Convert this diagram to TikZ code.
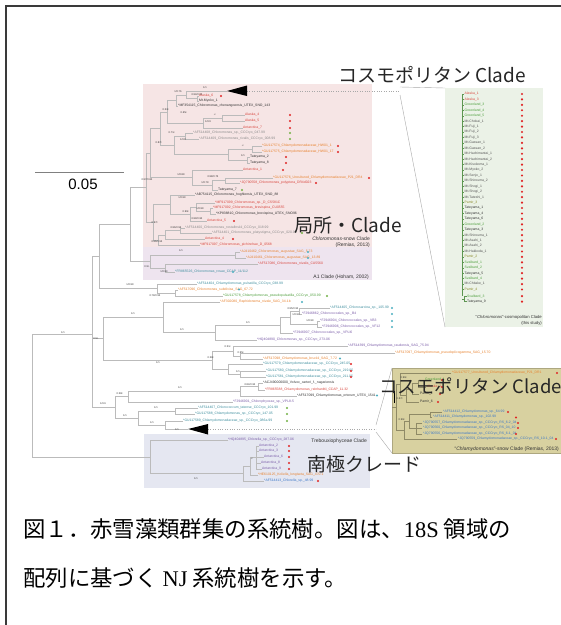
\documentclass[tikz,border=0pt]{standalone}
\usepackage{fontspec}
\setmainfont{Liberation Sans}
\newfontfamily\jpf{Noto Sans CJK JP}
\newfontfamily\tmsf{Liberation Serif}
\definecolor{cR}{HTML}{D9473F}
\definecolor{cO}{HTML}{E8822E}
\definecolor{cG}{HTML}{4E9F3D}
\definecolor{cT}{HTML}{3E8E9E}
\definecolor{cP}{HTML}{7A5CA8}
\definecolor{cK}{HTML}{333333}
\definecolor{cM}{HTML}{555555}
\definecolor{cY}{HTML}{8C8C8C}
\definecolor{cB}{HTML}{3C78C8}
\definecolor{cV}{HTML}{8A8A2A}
\definecolor{dR}{HTML}{E02424}
\definecolor{dG}{HTML}{72B043}
\definecolor{dC}{HTML}{4AAFC0}
\definecolor{pinkc}{HTML}{F6E5E5}
\definecolor{lavc}{HTML}{EEE4EF}
\definecolor{mintc}{HTML}{EBF2E7}
\definecolor{khakic}{HTML}{D8D1A0}
\definecolor{bluec}{HTML}{E5E7F1}
\definecolor{brc}{HTML}{BBBBBB}
\definecolor{kbr}{HTML}{8F8A66}
\definecolor{framec}{HTML}{3A3A3A}
\definecolor{callc}{HTML}{A8A8A8}
\tikzset{
  br/.style={draw=brc, line width=0.4pt},
  kbrs/.style={draw=kbr, line width=0.4pt},
  cbr/.style={draw=cG!70!gray, line width=0.4pt},
  lf/.style={font=\fontsize{3.4}{3.8}\selectfont, anchor=west, inner sep=0pt},
  bsl/.style={font=\fontsize{2.6}{3}\selectfont, text=cK, inner sep=0pt},
  dotn/.style={circle, inner sep=0pt, minimum size=2.4pt},
  capt/.style={font=\fontsize{5}{5.5}\selectfont, text=cK, inner sep=0pt},
  big/.style={font=\jpf\fontsize{19}{21}\selectfont, text=black!85, inner sep=0pt, anchor=base west},
  callout/.style={draw=callc, line width=0.4pt},
}
\newcommand\LF[4]{\node[lf,text=#1] (#2) at (#3) {#4};}
\newcommand\DT[3]{\node[dotn,fill=#1] (#2) at (#3) {};}
\newcommand\BS[3]{\node[bsl] (#1) at (#2) {#3};}
\newcommand\CL[5]{\draw[br] (#1,#2) -| (#3,#5) -- (#4,#5);}
\newcommand\KL[5]{\draw[kbrs] (#1,#2) -| (#3,#5) -- (#4,#5);}
\begin{document}
\begin{tikzpicture}[x=1pt,y=-1pt]
\useasboundingbox (0,0) rectangle (561,625);
\fill[white] (0,0) rectangle (561,625);
% frame
\draw[framec, line width=1.6pt] (6,625) -- (6,6) -- (561,6);
% scale bar
\draw[gray, line width=0.8pt] (35,172) -- (124,172);
\node[font=\fontsize{15}{16}\selectfont, inner sep=0pt] (scl) at (83,184) {0.05};
% shaded regions
\fill[pinkc] (143,84) rectangle (372,247);
\fill[lavc] (143,247) rectangle (372,280);
\fill[mintc] (445,88) rectangle (543,327);
\fill[khakic, draw=khakic!80!black, line width=0.3pt] (392,368) rectangle (561,453);
\fill[bluec] (144,434) rectangle (370,488);
% callout lines
\draw[callout, dotted] (247,91) -- (400,91);
\draw[callout] (400,87) -- (445,88);
\draw[callout] (400,95) -- (445,327);
\draw[callout, dotted] (208,429) -- (376,429);
\draw[callout] (376,425) -- (392,368);
\draw[callout] (376,432) -- (392,453);
% collapsed clades
\fill[black] (227,91) -- (247,85.5) -- (247,96) -- cycle;
\fill[black] (188,429) -- (208,424) -- (208,434.5) -- cycle;
% ---------- tree branches ----------
\CL{199}{96}{197}{199}{101}
\CL{227}{91}{186}{197}{98.5}
\CL{186}{94.75}{176}{178}{106}
\CL{245}{115}{222}{245}{121}
\CL{222}{118}{203}{243}{128}
\CL{176}{100.4}{167}{203}{123}
\CL{193}{133}{185}{199}{139}
\CL{262}{146}{252}{262}{152}
\CL{250}{157}{247}{250}{163}
\CL{252}{149}{228}{247}{160}
\CL{185}{136}{174}{228}{154.5}
\CL{167}{111.7}{160}{174}{145.25}
\CL{273}{178}{225}{240}{183}
\CL{225}{180.5}{212}{218}{190}
\CL{243}{170}{192}{212}{185.25}
\CL{160}{128.5}{150}{192}{177.6}
\CL{213}{208}{210}{216}{214}
\CL{215}{203}{196}{210}{211}
\CL{196}{207}{190}{207}{221}
\CL{195}{195}{170}{190}{214}
\CL{185}{228}{180}{212}{233}
\CL{180}{230.5}{165}{205}{239}
\CL{165}{234.75}{158}{200}{245}
\CL{170}{204.5}{153}{158}{240}
\CL{150}{153}{146}{153}{222.25}
\CL{240}{252}{235}{246}{258}
\CL{258}{264}{165}{175}{272}
\CL{235}{255}{150}{165}{268}
\CL{146}{187.6}{130}{150}{261.5}
\CL{178}{290}{175}{223}{296}
\CL{197}{284}{157}{175}{293}
\CL{130}{224.5}{99}{157}{288.5}
\CL{330}{308}{299}{302}{314}
\CL{320}{321}{317}{322}{327}
\CL{299}{311}{290}{317}{324}
\CL{290}{317.5}{280}{293}{333}
\CL{280}{325.25}{215}{257}{340}
\CL{220}{302}{163}{215}{332.6}
\CL{395}{353}{240}{263}{359}
\CL{348}{346}{233}{240}{356}
\CL{266}{371}{240}{266}{377}
\CL{263}{364}{228}{240}{374}
\CL{233}{351}{212}{228}{369}
\CL{163}{317.3}{103}{212}{360}
\CL{263}{383}{258}{265}{390}
\CL{258}{386.5}{240}{297}{396}
\CL{240}{391.25}{128}{233}{402}
\CL{198}{408}{175}{195}{414}
\CL{183}{421}{165}{188}{429}
\CL{175}{411}{138}{165}{425}
\CL{128}{396.6}{115}{138}{418}
\CL{99}{256.5}{92}{115}{407.3}
\draw[br] (92,338.65) -- (103,338.65);
\CL{92}{334}{32}{150}{456.8}
\draw[br] (259,446) -| (256,469) -- (262,469);
\draw[br] (256,451) -- (259,451);
\draw[br] (256,457) -- (264,457);
\draw[br] (256,463) -- (261,463);
\CL{256}{457.5}{250}{258}{475}
\CL{250}{466.25}{243}{264}{481}
\CL{228}{440}{150}{243}{473.6}
% ---------- bootstrap labels ----------
\BS{b01}{205,88}{1/1}
\BS{b02}{178,92}{1/0.76}
\BS{b03}{197,94.5}{0.94/0.95}
\BS{b04}{166,110}{0.53/-}
\BS{b05}{184,113}{0.65/-}
\BS{b06}{215,115}{-/-}
\BS{b07}{208,122}{1/0.9}
\BS{b08}{172,133}{0.71/-}
\BS{b09}{183,140}{1/0.8}
\BS{b10}{159,143}{0.87/-}
\BS{b11}{243,146}{-/-}
\BS{b12}{243,156}{1/1}
\BS{b13}{181,175}{1/0.89}
\BS{b14}{147,180}{0.97/0.82}
\BS{b15}{213,177}{0.98/0.75}
\BS{b16}{205,183}{1/0.79}
\BS{b17}{182,198}{1/0.99}
\BS{b18}{200,209}{1/0.99}
\BS{b19}{186,212}{0.99/-}
\BS{b20}{197,219}{0.99/0.92}
\BS{b21}{155,223}{0.97/-}
\BS{b22}{176,228}{0.96/0.56}
\BS{b23}{157,242}{0.96/0.53}
\BS{b24}{181,251}{1/1}
\BS{b25}{147,267}{0.9/-}
\BS{b26}{164,272}{1/0.99}
\BS{b27}{130,285}{1/0.99}
\BS{b28}{155,296}{0.79/0.55}
\BS{b29}{293,309}{0.95/0.92}
\BS{b30}{296,314.5}{1/0.94}
\BS{b31}{310,321}{1/0.99}
\BS{b32}{133,314}{1/1}
\BS{b33}{248,323}{1/1}
\BS{b34}{63,333}{1/1}
\BS{b35}{182,330}{1/1}
\BS{b36}{96,339}{0.5/-}
\BS{b37}{228,347}{0.51/-}
\BS{b38}{241,353}{0.95/-}
\BS{b39}{211,358}{0.58/-}
\BS{b40}{158,363}{1/1}
\BS{b41}{238,372}{1/1}
\BS{b42}{250,385}{0.84/0.92}
\BS{b43}{180,388}{1/1}
\BS{b44}{120,394}{0.58/-}
\BS{b45}{103,404}{1/0.6}
\BS{b46}{156,408}{1/1}
\BS{b47}{125,416}{1/1}
\BS{b48}{152,423}{1/1}
\BS{b49}{177,430}{1/1}
\BS{b50}{252,459}{-/-}
\BS{b51}{196,479}{1/1}
% ---------- leaves: Chloromonas-snow clade ----------
\LF{cR}{l01}{199,96}{Alaska\_6} \DT{dR}{d01}{221,96}
\LF{cK}{l02}{199,101}{Mt.Myoko\_1}
\LF{cK}{l03}{178,106}{*MF354115\_Chloromonas\_chenangoensis\_UTEX\_SNO\_143}
\LF{cR}{l04}{245,115}{Alaska\_4} \DT{dR}{d04}{290,115}
\LF{cR}{l05}{245,121}{Alaska\_5} \DT{dR}{d05}{290,121}
\LF{cR}{l06}{243,128}{Antarctica\_7} \DT{dR}{d06}{290,128}
\LF{cY}{l07}{193,133}{*AF514408\_Chloromonas\_sp.\_CCCryo\_047.99} \DT{dG}{d07}{290,133}
\LF{cY}{l08}{199,139}{*AF514409\_Chloromonas\_rivalis\_CCCryo\_008.99} \DT{dG}{d08}{290,139}
\LF{cO}{l09}{262,146}{*GU117574\_Chlamydomonadaceae\_HW01\_1} \DT{dR}{d09}{338,146}
\LF{cO}{l10}{262,152}{*GU117575\_Chlamydomonadaceae\_HW01\_17} \DT{dR}{d10}{338,152}
\LF{cK}{l11}{250,157}{Tateyama\_2} \DT{dR}{d11}{286,157}
\LF{cK}{l12}{250,163}{Tateyama\_8} \DT{dR}{d12}{286,163}
\LF{cR}{l13}{243,170}{Antarctica\_1} \DT{dR}{d13}{283,170}
\LF{cO}{l14}{273,178}{*GU117576\_Uncultured\_Chlamydomonadaceae\_P21\_DR4} \DT{dR}{d14}{369,178}
\LF{cR}{l15}{240,183}{*JQ790558\_Chloromonas\_polyptera\_DR4d023} \DT{dR}{d15}{316,183}
\LF{cK}{l16}{218,190}{Tateyama\_7} \DT{dG}{d16}{242,190}
\LF{cK}{l17}{195,195}{*AB754115\_Chloromonas\_hoghlensis\_UTEX\_SNO\_88}
\LF{cR}{l18}{215,203}{*MF917099\_Chloromonas\_sp.\_D\_CS581C}
\LF{cR}{l19}{213,208}{*MF917092\_Chloromonas\_brevispina\_CU0555}
\LF{cK}{l20}{216,214}{*KP838810\_Chloromonas\_brevispina\_UTEX\_SNO96}
\LF{cR}{l21}{207,221}{Antarctica\_5} \DT{dR}{d21}{234,221}
\LF{cY}{l22}{185,228}{*AF514400\_Chloromonas\_rostafinskii\_CCCryo\_018.99}
\LF{cY}{l23}{212,233}{*AF514401\_Chloromonas\_platystigma\_CCCryo\_020.99} \DT{dG}{d23}{302,233}
\LF{cR}{l24}{205,239}{Antarctica\_4} \DT{dR}{d24}{233,239}
\LF{cR}{l25}{200,245}{*MF917097\_Chloromonas\_pichinchae\_D\_0568}
\node[capt, anchor=east] (cap1) at (370,239) {\textit{Chloromonas}-snow Clade};
\node[capt, anchor=east] (cap2) at (370,245.5) {(Remias, 2013)};
% A1 clade
\LF{cO}{l26}{240,252}{*AJ410462\_Chloromonas\_augustae\_SAG\_5.73} \DT{dC}{d26}{308,252}
\LF{cO}{l27}{246,258}{*AJ410461\_Chloromonas\_augustae\_SAG\_13.89} \DT{dC}{d27}{308,258}
\LF{cR}{l28}{258,264}{*AF517086\_Chloromonas\_nivalis\_CU5560}
\LF{cT}{l29}{175,272}{*FR865526\_Chloromonas\_rosae\_CCAP\_11/112} \DT{dC}{d29}{233,272}
\node[capt, anchor=east] (cap3) at (369,277) {A1 Clade (Hoham, 2002)};
% middle part
\LF{cT}{l30}{197,284}{*AF514404\_Chlamydomonas\_pulsatilla\_CCCryo\_038.99}
\LF{cO}{l31}{178,290}{*AF517096\_Chloromonas\_subdivisa\_SAG\_67.72} \DT{dC}{d31}{239,289.5}
\LF{cG}{l32}{223,296}{*GU117578\_Chlamydomonas\_pseudopulsatilla\_CCCryo\_050.99} \DT{dG}{d32}{327,296}
\LF{cO}{l33}{220,302}{*AF302080\_Raphidonema\_nivale\_SAG\_34-1b} \DT{dC}{d33}{302,302}
\LF{cT}{l34}{330,308}{*AF514405\_Chlorosarcina\_sp.\_105.99} \DT{dC}{d34}{392,308}
\LF{cP}{l35}{302,314}{*FJ946862\_Chlorococcales\_sp.\_B4} \DT{dC}{d35}{392,314}
\LF{cP}{l36}{320,321}{*FJ946904\_Chlorococcales\_sp.\_VB3} \DT{dC}{d36}{392,321}
\LF{cP}{l37}{322,327}{*FJ946906\_Chlorococcales\_sp.\_VF12} \DT{dC}{d37}{392,327}
\LF{cP}{l38}{293,333}{*FJ946907\_Chlorococcales\_sp.\_VPLI6}
\LF{cP}{l39}{257,340}{*HQ404890\_Chloromonas\_sp.\_CCCryo\_273-06}
\LF{cP}{l40}{348,346}{*AF514399\_Chlamydomonas\_raudensis\_SAG\_75.94}
\LF{cO}{l41}{395,353}{*AF517097\_Chlamydomonas\_pseudoplicogamma\_SAG\_15.70}
\LF{cO}{l42}{263,359}{*AF517098\_Chlamydomonas\_bruckii\_SAG\_7.72} \DT{dC}{d42}{340,358.5}
\LF{cT}{l43}{263,364}{*GU117579\_Chlamydomonadaceae\_sp.\_CCCryo\_245.05} \DT{dR}{d43}{351,364}
\LF{cT}{l44}{266,371}{*GU117580\_Chlamydomonadaceae\_sp.\_CCCryo\_219.05} \DT{dR}{d44}{351,371}
\LF{cT}{l45}{266,377}{*GU117581\_Chlamydomonadaceae\_sp.\_CCCryo\_211.05} \DT{dR}{d45}{351,377}
\LF{cK}{l46}{263,383}{*ACJ490000000\_Volvox\_carteri\_f.\_nagariensis}
\LF{cR}{l47}{265,390}{*FR865588\_Chlamydomonas\_reinhardtii\_CCAP\_11.32}
\LF{cK}{l48}{297,396}{*AF517099\_Chlamydomonas\_ortorum\_UTEX\_1541} \DT{dC}{d48}{377,395.5}
\LF{cP}{l49}{233,402}{*FJ946901\_Chlorophyceae\_sp.\_VPL8-5}
\LF{cT}{l50}{198,408}{*AF514407\_Chlorococcum\_tatense\_CCCryo\_101.99} \DT{dG}{d50}{287,408}
\LF{cT}{l51}{195,414}{*GU117588\_Chlamydomonas\_sp.\_CCCryo\_147.05} \DT{dG}{d51}{287,414}
\LF{cT}{l52}{183,421}{*GU117589\_Chlamydomonadaceae\_sp.\_CCCryo\_086a.99} \DT{dG}{d52}{287,421}
% black bracket
\draw[black, line width=0.7pt] (382,391) -- (394,391) -- (394,403);
% Trebouxiophyceae
\node[capt, anchor=east] (cap4) at (367,441) {Trebouxiophyceae Clade};
\LF{cP}{l53}{228,440}{*HQ404895\_Chlorella\_sp.\_CCCryo\_287.06}
\LF{cP}{l54}{259,446}{Antarctica\_2} \DT{dR}{d54}{289,446}
\LF{cP}{l55}{259,451}{Antarctica\_3} \DT{dR}{d55}{289,451}
\LF{cP}{l56}{264,457}{Antarctica\_6} \DT{dR}{d56}{289,457}
\LF{cP}{l57}{261,463}{Antarctica\_8} \DT{dR}{d57}{289,463}
\LF{cP}{l58}{262,469}{Antarctica\_9} \DT{dR}{d58}{289,469}
\LF{cO}{l59}{258,475}{*HE610125\_Koliella\_longiseta\_SAG\_470.1}
\LF{cB}{l60}{264,481}{*AF514413\_Chlorella\_sp.\_48.99} \DT{dR}{d60}{318,481}
% ---------- cosmopolitan panel ----------
\draw[cbr] (462,94) -- (462,296);
\foreach \nm/\cc [count=\i] in {Alaska\_1/cR, Alaska\_3/cR, Greenland\_3/cG, Greenland\_4/cG, Greenland\_5/cG, Mt.Chokai\_1/cM, Mt.Fuji\_1/cM, Mt.Fuji\_2/cM, Mt.Fuji\_3/cM, Mt.Gassan\_1/cM, Mt.Gassan\_2/cM, Mt.Hachimantai\_1/cM, Mt.Hachimantai\_2/cM, Mt.Kisokoma\_1/cM, Mt.Myoko\_2/cM, Mt.Senjo\_1/cM, Mt.Shirouma\_2/cM, Mt.Shogi\_1/cM, Mt.Shogi\_2/cM, Mt.Tateshi\_1/cM, Pamir\_3/cV, Tateyama\_1/cK, Tateyama\_4/cK, Tateyama\_6/cK, Greenland\_2/cG, Tateyama\_3/cK, Mt.Shirouma\_1/cM, Mt.Asahi\_1/cM, Mt.Asahi\_2/cM, Mt.Hakkoda\_1/cM, Pamir\_2/cV, Svalbard\_1/cG, Svalbard\_2/cG, Tateyama\_5/cK, Svalbard\_4/cG, Mt.Chitake\_1/cM, Pamir\_4/cV}{
  \pgfmathsetmacro\yy{94+(\i-1)*5.43}
  \draw[cbr] (462,\yy) -- (464,\yy);
  \node[lf,text=\cc] (cm\i) at (464.5,\yy) {\nm};
  \node[dotn,fill=dR] (cd\i) at (522,\yy) {};
}
\draw[cbr] (462,298.7) -- (464.5,298.7);
\draw[cbr] (466.5,296.1) -| (464.5,301.6) -- (466.5,301.6);
\node[lf,text=cG] (cm38) at (467,296.1) {Svalbard\_3};
\node[dotn,fill=dR] (cd38) at (522,296.1) {};
\node[lf,text=cK] (cm39) at (467,301.6) {Tateyama\_9};
\node[dotn,fill=dR] (cd39) at (522,301.6) {};
\node[font=\fontsize{4.2}{4.6}\selectfont, text=cK, inner sep=0pt, anchor=east] (cap5) at (542,317.5) {``\textit{Chloromonas}''-cosmopolitan Clade};
\node[font=\fontsize{4.2}{4.6}\selectfont, text=cK, inner sep=0pt, anchor=east] (cap6) at (542,323) {(this study)};
% ---------- Chlamydomonas-snow panel ----------
\KL{424}{380}{418}{426}{387}
\KL{418}{383.5}{412}{419}{394}
\KL{412}{388.75}{406}{419}{402}
\KL{451}{373}{400}{406}{395.4}
\KL{442}{412}{430}{432}{417}
\draw[kbrs] (422,423) -| (416,434) -- (422,434);
\draw[kbrs] (416,428) -- (422,428);
\KL{430}{414.5}{409}{416}{428.5}
\KL{409}{421.5}{404}{457}{439}
\KL{400}{384.2}{396}{404}{430.25}
\draw[kbrs] (392,407) -- (396,407);
\BS{k91}{404,377.5}{0.96/-}
\BS{k92}{400,399}{0.87/-}
\BS{k93}{402,420}{0.96/-}
\LF{cO}{k01}{452,373}{*GU117577\_Uncultured\_Chlamydomonadaceae\_P21\_DR1} \DT{dR}{kd01}{557,373}
\LF{cG}{k02}{425,380}{Greenland\_1} \DT{dR}{kd02}{442,380}
\LF{cR}{k03}{427,387}{Alaska\_2} \DT{dR}{kd03}{442,387}
\LF{cK}{k04}{420,394}{Pamir\_1} \DT{dR}{kd04}{440,394}
\LF{cK}{k05}{420,402}{Pamir\_6} \DT{dR}{kd05}{438,402}
\LF{cB}{k06}{443,412}{*AF514412\_Chlamydomonas\_sp.\_64.99} \DT{dR}{kd06}{508,412}
\LF{cB}{k07}{433,417}{*AF514411\_Chlamydomonas\_sp.\_102.99} \DT{dR}{kd07}{516,417.5}
\LF{cB}{k08}{423,423}{*JQ790557\_Chlamydomonadaceae\_sp.\_CCCryo\_RS\_6-2\_04} \DT{dR}{kd08}{518,423}
\LF{cB}{k09}{423,428}{*JQ790560\_Chlamydomonadaceae\_sp.\_CCCryo\_RS\_04\_10} \DT{dR}{kd09}{518,428}
\LF{cB}{k10}{423,434}{*JQ790556\_Chlamydomonadaceae\_sp.\_CCCryo\_RS\_6-1\_04} \DT{dR}{kd10}{516,434}
\LF{cB}{k11}{458,439}{*JQ790559\_Chlamydomonadaceae\_sp.\_CCCryo\_RS\_10-1\_04} \DT{dR}{kd11}{556,439}
\node[font=\fontsize{5}{5.5}\selectfont, text=cK, inner sep=0pt, anchor=east] (cap7) at (559,449.5) {``\textit{Chlamydomonas}''-snow Clade (Remias, 2013)};
% ---------- overlay texts ----------
\node[big] (o1) at (338,82) {コスモポリタン Clade};
\node[big] (o2) at (294,232) {局所・Clade};
\node[big, font=\jpf\fontsize{18.5}{20}\selectfont] (o3) at (379,393) {コスモポリタン Clade};
\node[big] (o4) at (307,471) {南極クレード};
% ---------- caption ----------
\node[font=\jpf\fontsize{22.4}{24}\selectfont, inner sep=0pt, anchor=base west] (cp1) at (23,537) {図１．赤雪藻類群集の系統樹。図は、{\tmsf 18S} 領域の};
\node[font=\jpf\fontsize{22.4}{24}\selectfont, inner sep=0pt, anchor=base west] (cp2) at (23,586) {配列に基づく {\tmsf NJ} 系統樹を示す。};
\end{tikzpicture}
\end{document}
